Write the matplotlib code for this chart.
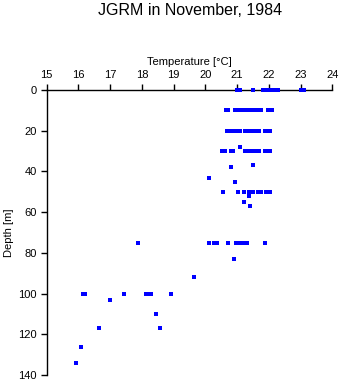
import matplotlib
matplotlib.use("Agg")
import matplotlib.pyplot as plt
import numpy as np

# temperature [degC] and depth [m] of each sample
temp_0 = [21.0, 21.1, 21.5, 21.8, 21.9, 22.0, 22.1, 22.2, 22.3, 23.0, 23.1]
temp_10 = [20.65, 20.7, 20.92, 21.0, 21.1, 21.2, 21.3, 21.4, 21.5, 21.6, 21.7, 21.75, 21.97, 22.05, 22.1]
temp_20 = [20.68, 20.75, 20.85, 20.95, 21.08, 21.25, 21.35, 21.45, 21.55, 21.7, 21.87, 21.95, 22.05]
temp_30 = [20.53, 20.63, 20.8, 20.88, 21.25, 21.35, 21.45, 21.55, 21.7, 21.87, 21.95, 22.05]
temp_50 = [20.57, 21.04, 21.23, 21.38, 21.51, 21.67, 21.74, 21.91, 22.04]
temp_75 = [17.89, 20.12, 20.27, 20.38, 20.7, 20.98, 21.07, 21.18, 21.3, 21.89]
temp_100 = [16.14, 16.2, 17.45, 18.12, 18.2, 18.28, 18.92]

# single readings at other depths
other_temp = [21.1, 21.5, 20.82, 20.12, 20.94, 21.38, 21.22, 21.42,
              20.91, 19.65, 17.0, 18.46, 16.66, 18.58, 16.09, 15.94]
other_depth = [28, 37, 38, 43, 45, 52, 55, 57,
               83, 92, 103, 110, 117, 117, 126, 134]

temp_ticks = list(range(15, 25))
depth_ticks = [0, 20, 40, 60, 80, 100, 120, 140]

levels = [(0, temp_0), (10, temp_10), (20, temp_20), (30, temp_30),
          (50, temp_50), (75, temp_75), (100, temp_100)]
temps = np.concatenate([t for _, t in levels] + [other_temp])
depths = np.concatenate([[d] * len(t) for d, t in levels] + [other_depth])

plt.rcParams["font.family"] = ["Liberation Sans", "DejaVu Sans"]

fig = plt.figure(figsize=(3.41, 3.84), dpi=100)
ax = fig.add_axes([0.1367, 0.0234, 0.838, 0.742])

ax.plot(temps, depths, linestyle="none", marker="s", markersize=2.6,
        color="#0000ff", markeredgewidth=0, antialiased=False,
        clip_on=False, zorder=3)

ax.set_xlim(15, 24)
ax.set_ylim(140, 0)
ax.set_xticks(temp_ticks)
ax.set_yticks(depth_ticks)
ax.xaxis.tick_top()
ax.xaxis.set_label_position("top")
ax.set_xlabel("Temperature [\u00b0C]", fontsize=8, labelpad=4)
ax.set_ylabel("Depth [m]", fontsize=8, labelpad=3)
ax.tick_params(axis="both", direction="out", length=4, width=1, labelsize=8, pad=3, color="black")

for side in ("right", "bottom"):
    ax.spines[side].set_visible(False)
for side in ("top", "left"):
    ax.spines[side].set_linewidth(1)

fig.text(0.557, 0.972, "JGRM in November, 1984", ha="center", va="center", fontsize=11.5)

fig.savefig("out.png", dpi=100)
